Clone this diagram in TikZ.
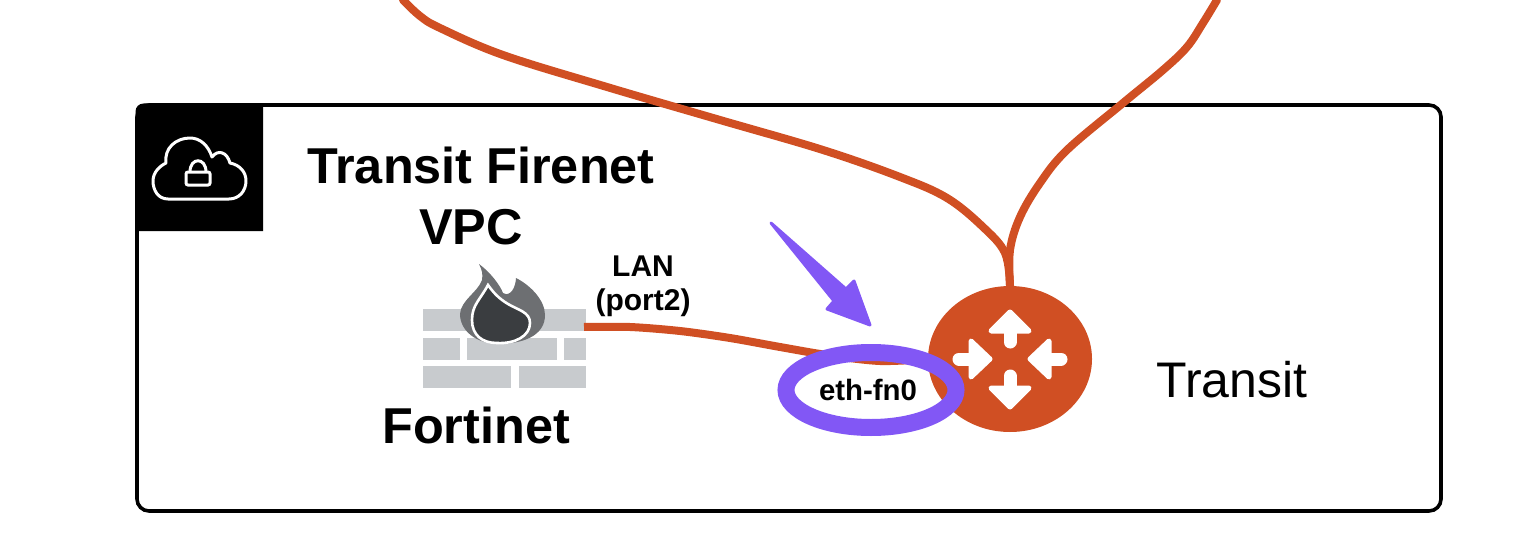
\documentclass[tikz,border=0pt]{standalone}
\usepackage{fontspec}
\setmainfont{Liberation Sans}
\usetikzlibrary{shapes.geometric}
\definecolor{rust}{HTML}{D04F23}
\definecolor{violet}{HTML}{8257F5}
\definecolor{brick}{HTML}{C8CBCE}
\definecolor{flameo}{HTML}{6D6F72}
\definecolor{flamei}{HTML}{3A3D40}
\tikzset{
  wire/.style={draw=rust,line width=4pt,line cap=round,line join=round},
  whitearrow/.style={fill=white,draw=white,line width=2.5pt,line join=round},
  whiteline/.style={draw=white,line width=6.5pt,line cap=round},
  label/.style={inner sep=0pt,font=\bfseries\fontsize{25.2}{25}\selectfont,text=black},
  small/.style={inner sep=0pt,font=\bfseries\fontsize{15}{15}\selectfont,text=black},
}
\begin{document}
\begin{tikzpicture}[x=0.5pt,y=-0.5pt]
\useasboundingbox (0,0) rectangle (1530,556);
% container
\node[draw=black,line width=1.8pt,rounded corners=6pt,minimum width=652pt,minimum height=203pt,inner sep=0pt] (vpc) at (789,308) {};
% black corner tile
\path[fill=black,rounded corners=4pt] (135.5,231) -- (135.5,103.5) -- (200,103.5) [sharp corners] -- (263,103.5) -- (263,231) -- cycle;
% cloud with lock
\draw[white,line width=1.5pt,line join=round,fill=black]
  (168,199) .. controls (158,199) and (153,190) .. (153,181)
  .. controls (153,172) and (160,166) .. (166,163)
  .. controls (164,148) and (176,138) .. (190,138)
  .. controls (200,138) and (208,145) .. (212,157)
  .. controls (218,149) and (227,152) .. (230,163)
  .. controls (240,165) and (246,172) .. (246,181)
  .. controls (246,191) and (239,199) .. (229,199) -- cycle;
\draw[white,line width=1.5pt,rounded corners=1pt] (186,172) rectangle (210,185);
\draw[white,line width=1.5pt] (190,172) .. controls (190,157) and (206,157) .. (206,172);
% router
\node[ellipse,fill=rust,minimum width=82pt,minimum height=73pt,inner sep=0pt] (router) at (1010,359) {};
% firewall bricks
\fill[brick] (423,309) rectangle (586,331);
\fill[brick] (423,338) rectangle (460,360);
\fill[brick] (467,338) rectangle (557,360);
\fill[brick] (564,338) rectangle (586,360);
\fill[brick] (423,366) rectangle (511,388);
\fill[brick] (519,366) rectangle (586,388);
\coordinate (fwport) at (584,327);
% flame
\fill[flameo] (479,264) .. controls (490,272) and (500,285) .. (503,293)
  .. controls (506,296) and (515,294) .. (516,278)
  .. controls (530,285) and (545,300) .. (545,315)
  .. controls (545,332) and (530,343) .. (500,344)
  .. controls (475,344) and (460,330) .. (460,314)
  .. controls (461,300) and (478,292) .. (482,280)
  .. controls (483,274) and (482,270) .. (479,264) -- cycle;
\draw[white,line width=1.3pt,fill=flamei] (488,285)
  .. controls (480,300) and (472,305) .. (472,320)
  .. controls (472,335) and (482,343) .. (497,343)
  .. controls (515,344) and (530,336) .. (530,323)
  .. controls (530,312) and (518,310) .. (508,304)
  .. controls (498,298) and (493,292) .. (488,285) -- cycle;
% wires
\coordinate (topa) at (403,0);
\coordinate (topb) at (1217,0);
\draw[wire] plot[smooth,tension=0.6] coordinates {(topa) (420,16) (440,28) (503,55) (607,87) (720,120) (823,150) (900,177) (947,198) (983,227) (1005,253) (router.north)};
\draw[wire] plot[smooth,tension=0.6] coordinates {(topb) (1203,23) (1187,47) (1163,70) (1123,103) (1067,150) (1040,183) (1020,217) (1010,250) (router.north)};
\draw[wire,line cap=butt] plot[smooth,tension=0.5] coordinates {(fwport) (630,327) (680,331) (730,338) (780,347) (827,355) (880,361) (router.west)};
% router arrows
\path[whiteline] (1010,342) -- (1010,325);
\path[whitearrow] (1010,312) -- (1029,331) -- (991,331) -- cycle;
\path[whiteline] (1010,376) -- (1010,392);
\path[whitearrow] (1010,407) -- (1029,388) -- (991,388) -- cycle;
\path[whiteline] (959,359) -- (975,359);
\path[whitearrow] (990,359) -- (971,341) -- (971,377) -- cycle;
\path[whiteline] (1061,359) -- (1045,359);
\path[whitearrow] (1030,359) -- (1049,341) -- (1049,377) -- cycle;
% purple ring and pointer
\node[ellipse,draw=violet,line width=8.5pt,minimum width=85pt,minimum height=37.5pt,inner sep=0pt] (ring) at (871,390) {};
\node[small,font=\bfseries\fontsize{14.7}{15}\selectfont] (ethfn) at (868,390) {eth-fn0};
\fill[violet,draw=violet,line width=1.5pt,line join=round] (771,223) -- (846,289) -- (854,281) -- (870,325) -- (827,309) -- (834,301) -- cycle;
% labels
\node[label] (title) at (481,165) {Transit Firenet};
\node[label] (vpcname) at (471,227) {VPC};
\node[label] (fortinet) at (476,425) {Fortinet};
\node[small] (lan) at (643,266) {LAN};
\node[small] (port) at (643,303) {(port2)};
\node[inner sep=0pt,font=\fontsize{25}{25}\selectfont] (transit) at (1232,380) {Transit};
\end{tikzpicture}
\end{document}
